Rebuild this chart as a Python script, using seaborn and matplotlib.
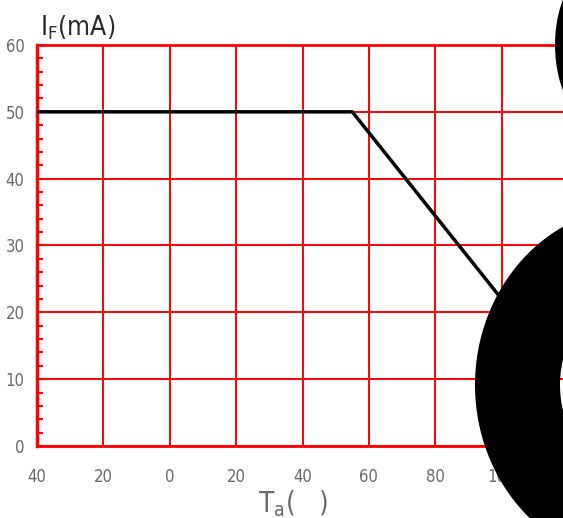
import matplotlib
matplotlib.use("Agg")
import matplotlib.pyplot as plt
import seaborn as sns
from matplotlib.ticker import MultipleLocator
from matplotlib.patches import Annulus, Ellipse
from matplotlib.transforms import IdentityTransform

# Data
temperature = [-40, 55, 100]
forward_current = [50, 50, 22]
x_ticks = [-40, -20, 0, 20, 40, 60, 80, 100]
x_tick_labels = ["40", "20", "0", "20", "40", "60", "80", "100"]
y_ticks = [0, 10, 20, 30, 40, 50, 60]
y_tick_labels = ["0", "10", "20", "30", "40", "50", "60"]

sns.set_style("white")
plt.rcParams['font.family'] = ['DejaVu Sans Condensed', 'DejaVu Sans']
plt.rcParams['font.stretch'] = 'condensed'
plt.rcParams['mathtext.fontset'] = 'custom'
plt.rcParams['mathtext.rm'] = 'DejaVu Sans Condensed'

W, H = 563, 518
fig = plt.figure(figsize=(W / 100, H / 100), dpi=100)
ax = fig.add_axes([37 / W, 72 / H, 531 / W, 401 / H])

sns.lineplot(x=temperature, y=forward_current, ax=ax, color='black', lw=2.5, zorder=5)
ax.set_xlim(-40, 120)
ax.set_ylim(0, 60)
ax.set_xticks(x_ticks, x_tick_labels)
ax.set_yticks(y_ticks, y_tick_labels)
ax.yaxis.set_minor_locator(MultipleLocator(2))
ax.grid(True, which='major', color='#ff0000', lw=1.4)
ax.set_axisbelow(True)
ax.tick_params(axis='x', length=0, pad=16, labelsize=12, labelcolor='#6a6a6a')
ax.tick_params(axis='y', which='major', left=True, direction='in', length=4, width=1.5,
               color='#ff0000', pad=9, labelsize=12, labelcolor='#6a6a6a')
ax.tick_params(axis='y', which='minor', left=True, direction='in', length=4, width=1.5, color='#ff0000')
ax.spines['left'].set_color('#ff0000')
ax.spines['left'].set_linewidth(2.5)
for s in ['bottom', 'top', 'right']:
    ax.spines[s].set_color('#ff0000')
    ax.spines[s].set_linewidth(2)

fig.text(40 / W, 1 - 35 / H, r"I$_{\rm F}$(mA)", fontsize=19, color='#2a2a2a', ha='left', va='baseline')
fig.text(293 / W, 1 - 512 / H, r"T$_{\rm a}$(   )", fontsize=20, color='#6a6a6a', ha='center', va='baseline')

# large black glyph-like shapes on the right
def px(x, y):
    return (x, H - y)

ring = Annulus(px(640, 385), (165, 179), 85, facecolor='black', edgecolor='none',
               transform=IdentityTransform(), zorder=20)
fig.add_artist(ring)
blob = Ellipse(px(600, 45), 90, 160, facecolor='black', edgecolor='none',
               transform=IdentityTransform(), zorder=20)
fig.add_artist(blob)

fig.savefig("out.png", dpi=100)
